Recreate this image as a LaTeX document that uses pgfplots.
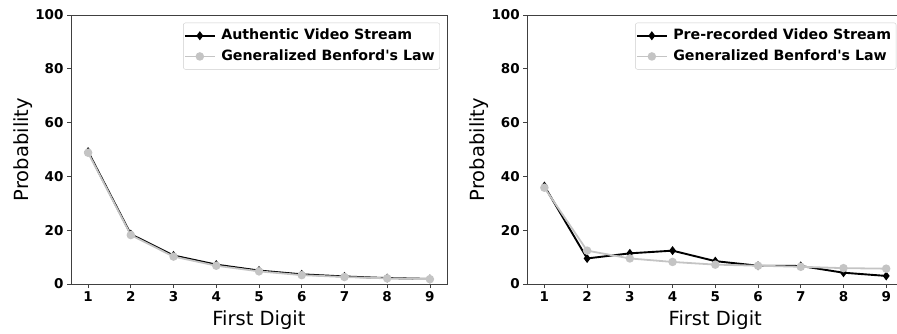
\documentclass[border=0pt]{standalone}
\usepackage{pgfplots}
\pgfplotsset{compat=1.18}
\usepackage{fontspec}
\setmainfont{DejaVu Sans}
\definecolor{benf}{RGB}{196,196,196}
\newcommand{\tickfont}{\fontsize{13.5}{15}\selectfont\bfseries}
\newcommand{\legfont}{\fontsize{14.2}{16}\selectfont\bfseries}
\newcommand{\labfont}{\fontsize{19.5}{22}\selectfont}
\pgfplotsset{
  myax/.style={
    scale only axis, width=376pt, height=269pt,
    xmin=0.6, xmax=9.4, ymin=0, ymax=100,
    xtick={1,...,9}, ytick={0,20,40,60,80,100},
    tick align=outside, tick pos=left,
    major tick length=4pt,
    every tick/.style={black!75, line width=0.8pt},
    axis line style={black!75, line width=0.8pt},
    /pgf/number format/assume math mode=true,
    ticklabel style={font=\tickfont},
    xlabel={First Digit}, ylabel={Probability},
    label style={font=\labfont},
    xlabel style={at={(axis description cs:0.5,-0.1524)}, anchor=base},
    ylabel style={at={(axis description cs:-0.113,0.5)}, anchor=base},
    legend cell align=left,
    legend style={at={(rel axis cs:1,1)}, anchor=north east, xshift=-7pt, yshift=-7.7pt,
      font=\legfont, draw=black!20, rounded corners=2pt, fill=white,
      inner xsep=0.5pt, inner ysep=2.5pt,
      nodes={inner xsep=4.5pt, inner ysep=3.6pt, text height=10.5pt, text depth=3pt},
      /tikz/every odd column/.append style={column sep=1pt}},
    legend image code/.code={\draw[##1, mark repeat=2, mark phase=2] plot coordinates {(0pt,0pt) (15pt,0pt) (30pt,0pt)};},
  },
  blk/.style={black, line width=1.9pt, mark=diamond*, mark size=3pt, mark options={solid, fill=black}},
  gry/.style={benf, line width=1.8pt, mark=*, mark size=3.3pt, mark options={solid, fill=benf, draw=benf}},
}
\begin{document}
\begin{tikzpicture}
\useasboundingbox (0,0) rectangle (897pt,333pt);
\begin{axis}[myax, at={(71pt,49pt)}, anchor=south west]
\addplot+[blk] coordinates {(1,49.2) (2,18.5) (3,10.6) (4,7.2) (5,5.0) (6,3.6) (7,2.8) (8,2.2) (9,1.9)};
\addlegendentry{Authentic Video Stream}
\addplot+[gry] coordinates {(1,48.8) (2,18.2) (3,10.2) (4,6.8) (5,4.7) (6,3.3) (7,2.6) (8,2.1) (9,1.8)};
\addlegendentry{Generalized Benford\textquotesingle s Law}
\end{axis}
\begin{axis}[myax, at={(527.3pt,49pt)}, anchor=south west]
\addplot+[blk] coordinates {(1,36.4) (2,9.5) (3,11.4) (4,12.4) (5,8.5) (6,6.8) (7,6.7) (8,4.2) (9,3.0)};
\addlegendentry{Pre-recorded Video Stream}
\addplot+[gry] coordinates {(1,35.8) (2,12.4) (3,9.5) (4,8.2) (5,7.2) (6,6.8) (7,6.4) (8,5.9) (9,5.7)};
\addlegendentry{Generalized Benford\textquotesingle s Law}
\end{axis}
\end{tikzpicture}
\end{document}
